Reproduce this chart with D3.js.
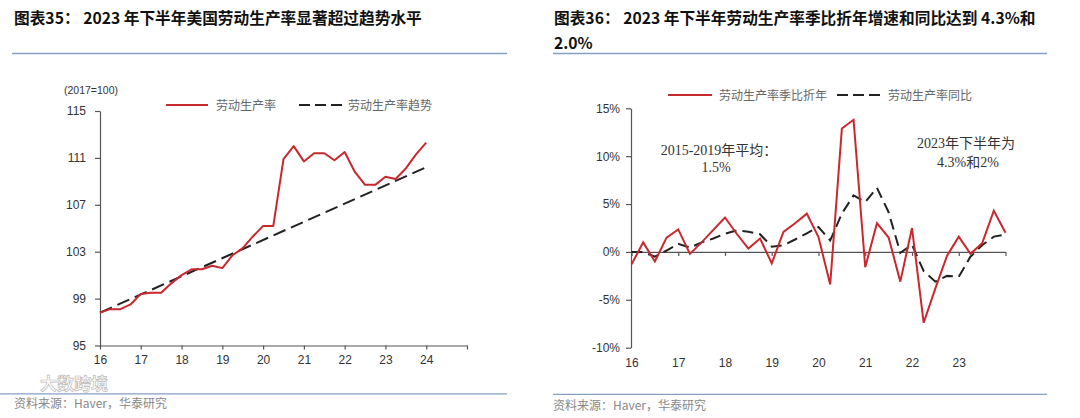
<!DOCTYPE html>
<html><head><meta charset="utf-8">
<script src="https://cdn.jsdelivr.net/npm/d3@7"></script>
<style>body{margin:0;background:#fff} svg{display:block}</style>
</head><body><svg id="c" width="1080" height="418"></svg>
<script>
// ---------- data ----------
const periods = ["2015Q4","2016Q1","2016Q2","2016Q3","2016Q4","2017Q1","2017Q2","2017Q3","2017Q4",
  "2018Q1","2018Q2","2018Q3","2018Q4","2019Q1","2019Q2","2019Q3","2019Q4",
  "2020Q1","2020Q2","2020Q3","2020Q4","2021Q1","2021Q2","2021Q3","2021Q4",
  "2022Q1","2022Q2","2022Q3","2022Q4","2023Q1","2023Q2","2023Q3","2023Q4"];
const productivityIndex = [97.8,98.1,98.1,98.5,99.4,99.5,99.5,100.3,101.0,101.5,101.5,101.8,101.6,102.7,103.3,104.3,105.2,
  105.2,110.9,112.0,110.7,111.4,111.4,110.8,111.5,109.8,108.7,108.7,109.4,109.2,110.1,111.3,112.3];
const trendPeriods = ["2015Q4","2023Q4"];
const trendIndex = [97.8, 110.2];
const qoqAnnualized = [-1.3,1.0,-1.0,1.5,2.35,-0.2,1.0,2.3,3.6,1.9,0.35,1.4,-1.2,2.1,3.0,4.0,1.55,
  -3.4,12.9,13.8,-1.6,3.0,1.5,-3.1,2.5,-7.4,-3.8,-0.4,1.6,-0.2,0.9,4.3,2.0];
const yoyGrowth = [0.0,0.0,-0.5,0.15,0.85,0.45,1.0,1.4,1.9,2.25,2.1,1.85,0.55,0.7,1.3,1.95,2.6,
  1.2,4.0,5.9,5.2,6.7,4.15,-0.1,0.75,-2.0,-3.1,-2.5,-2.6,-0.5,0.7,1.6,1.8];
const leftYTicks = [95,99,103,107,111,115];
const leftXTicks = [2016,2017,2018,2019,2020,2021,2022,2023,2024,2025];
const leftXLabels = ["16","17","18","19","20","21","22","23","24",""];
const rightYTicks = [-10,-5,0,5,10,15];
const rightXTicks = [2016,2017,2018,2019,2020,2021,2022,2023,2024];
const rightXLabels = ["16","17","18","19","20","21","22","23",""];

// ---------- helpers ----------
const toYear = p => +p.slice(0,4) + (+p.slice(5))/4;   // quarter-end position
const RED = "#c8282e", DARK = "#222";
const SANS = "'Liberation Sans', Arial, 'Noto Sans CJK SC', sans-serif";
const CJK = "'Noto Sans CJK SC', 'Liberation Sans', sans-serif";
const SERIF = "'Liberation Serif', 'Times New Roman', 'Noto Sans CJK SC', serif";
const svg = d3.select("#c");

function styleAxis(g){
  g.selectAll("path.domain").attr("stroke","#555").attr("stroke-width",1.2);
  g.selectAll(".tick line").attr("stroke","#555").attr("stroke-width",1.2);
  g.selectAll("text").attr("font-family",SANS).attr("font-size",12).attr("fill","#333");
}

// ---------- titles and rules ----------
svg.append("text").attr("x",14).attr("y",24).attr("font-family",CJK).attr("font-weight","bold")
  .attr("font-size",15.7).attr("fill","#111").text("图表35：  2023 年下半年美国劳动生产率显著超过趋势水平");
svg.append("text").attr("x",554).attr("y",24).attr("font-family",CJK).attr("font-weight","bold")
  .attr("font-size",15.7).attr("fill","#111").text("图表36：  2023  年下半年劳动生产率季比折年增速和同比达到  4.3%和");
svg.append("text").attr("x",554).attr("y",49).attr("font-family",CJK).attr("font-weight","bold")
  .attr("font-size",15.7).attr("fill","#111").text("2.0%");
[[12,507,53.5],[553,1047,53.5],[0,507,393.8],[553,1047,394.3]].forEach(([a,b,y])=>{
  svg.append("line").attr("x1",a).attr("x2",b).attr("y1",y).attr("y2",y)
    .attr("stroke","#86a0c2").attr("stroke-width",1.3);
});
svg.append("text").attr("x",14).attr("y",408).attr("font-family",CJK).attr("font-size",12)
  .attr("fill","#888").text("资料来源：Haver，华泰研究");
svg.append("text").attr("x",553).attr("y",410).attr("font-family",CJK).attr("font-size",12)
  .attr("fill","#888").text("资料来源：Haver，华泰研究");

// ---------- left chart ----------
const xL = d3.scaleLinear().domain([2016,2025]).range([100,467]);
const yL = d3.scaleLinear().domain([95,115]).range([345.5,111]);

svg.append("g").attr("transform","translate(100,0)")
  .call(d3.axisLeft(yL).tickValues(leftYTicks).tickSize(5).tickPadding(9).tickSizeOuter(0))
  .call(styleAxis);
svg.append("g").attr("transform","translate(0,345.5)")
  .call(d3.axisBottom(xL).tickValues(leftXTicks).tickFormat((d,i)=>leftXLabels[i]).tickSize(4).tickPadding(6).tickSizeOuter(0))
  .call(styleAxis);
svg.append("text").attr("x",64).attr("y",94).attr("font-family",SANS).attr("font-size",10.5)
  .attr("fill","#333").text("(2017=100)");

const lineL = d3.line().x(d=>xL(d[0])).y(d=>yL(d[1]));
svg.append("path").datum(trendPeriods.map((p,i)=>[toYear(p),trendIndex[i]]))
  .attr("d",lineL).attr("fill","none").attr("stroke",DARK).attr("stroke-width",2)
  .attr("stroke-dasharray","13,6");
svg.append("path").datum(periods.map((p,i)=>[toYear(p),productivityIndex[i]]))
  .attr("d",lineL).attr("fill","none").attr("stroke",RED).attr("stroke-width",2)
  .attr("stroke-linejoin","round");

// left legend
svg.append("line").attr("x1",166).attr("x2",208).attr("y1",105).attr("y2",105).attr("stroke",RED).attr("stroke-width",2);
svg.append("text").attr("x",216).attr("y",109.5).attr("font-family",CJK).attr("font-size",12).attr("fill","#666").text("劳动生产率");
svg.append("line").attr("x1",299).attr("x2",342).attr("y1",105).attr("y2",105).attr("stroke",DARK).attr("stroke-width",2).attr("stroke-dasharray","11,5");
svg.append("text").attr("x",348).attr("y",109.5).attr("font-family",CJK).attr("font-size",12).attr("fill","#666").text("劳动生产率趋势");

// ---------- right chart ----------
const xR = d3.scaleLinear().domain([2016,2024]).range([631.5,1005.5]);
const yR = d3.scaleLinear().domain([-10,15]).range([347.7,108.3]);

svg.append("g").attr("transform","translate(631,0)")
  .call(d3.axisLeft(yR).tickValues(rightYTicks).tickFormat(d=>d+"%").tickSize(5).tickPadding(6).tickSizeOuter(0))
  .call(styleAxis);
svg.append("g").attr("transform",`translate(0,${yR(0)})`)
  .call(d3.axisBottom(xR).tickValues(rightXTicks).tickFormat("").tickSize(4).tickSizeOuter(0))
  .call(styleAxis);
svg.append("g").attr("transform","translate(0,347.7)")
  .call(d3.axisBottom(xR).tickValues(rightXTicks).tickFormat((d,i)=>rightXLabels[i]).tickSize(0).tickPadding(10.5))
  .call(styleAxis).call(g=>g.select("path.domain").remove());

const lineR = d3.line().x(d=>xR(d[0])).y(d=>yR(d[1]));
svg.append("path").datum(periods.map((p,i)=>[toYear(p),yoyGrowth[i]]))
  .attr("d",lineR).attr("fill","none").attr("stroke",DARK).attr("stroke-width",2)
  .attr("stroke-dasharray","11,6");
svg.append("path").datum(periods.map((p,i)=>[toYear(p),qoqAnnualized[i]]))
  .attr("d",lineR).attr("fill","none").attr("stroke",RED).attr("stroke-width",2)
  .attr("stroke-linejoin","miter");

// right legend
svg.append("line").attr("x1",668).attr("x2",712).attr("y1",95).attr("y2",95).attr("stroke",RED).attr("stroke-width",2);
svg.append("text").attr("x",719).attr("y",99.5).attr("font-family",CJK).attr("font-size",12).attr("fill","#666").text("劳动生产率季比折年");
svg.append("line").attr("x1",837).attr("x2",882).attr("y1",95).attr("y2",95).attr("stroke",DARK).attr("stroke-width",2).attr("stroke-dasharray","11,5");
svg.append("text").attr("x",888).attr("y",99.5).attr("font-family",CJK).attr("font-size",12).attr("fill","#666").text("劳动生产率同比");

// annotations
svg.append("text").attr("x",719).attr("y",155).attr("text-anchor","middle").attr("font-family",SERIF)
  .attr("font-size",14).attr("fill","#333").text("2015-2019年平均：");
svg.append("text").attr("x",716).attr("y",171.5).attr("text-anchor","middle").attr("font-family",SERIF)
  .attr("font-size",14).attr("fill","#333").text("1.5%");
svg.append("text").attr("x",966).attr("y",148).attr("text-anchor","middle").attr("font-family",SERIF)
  .attr("font-size",14).attr("fill","#333").text("2023年下半年为");
svg.append("text").attr("x",968).attr("y",166.5).attr("text-anchor","middle").attr("font-family",SERIF)
  .attr("font-size",14).attr("fill","#333").text("4.3%和2%");

// watermark (kept above the source line so it does not cover the source text)
svg.append("text").attr("x",40).attr("y",390).attr("font-family",CJK).attr("font-weight","bold")
  .attr("font-size",17).attr("fill","#fff").attr("fill-opacity",0.85).attr("stroke","#bbb").attr("stroke-width",0.7)
  .text("大数跨境");
</script></body></html>
